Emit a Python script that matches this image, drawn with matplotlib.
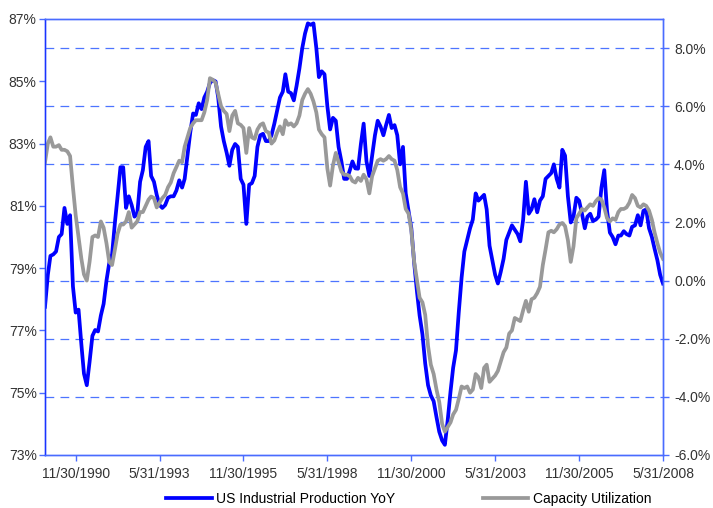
import matplotlib
matplotlib.use("Agg")
import matplotlib.pyplot as plt
import pandas as pd

plt.rcParams['font.family'] = ['Liberation Sans', 'DejaVu Sans']

# monthly, Dec 1989 .. May 2008 (one row per year)
ip_yoy = [
    -0.9,
    0.2, 0.85, 0.9, 1.0, 1.5, 1.6, 2.5, 1.95, 2.25, -0.2, -1.1, -1.0,
    -2.2, -3.2, -3.6, -2.8, -1.9, -1.7, -1.75, -1.2, -0.8, 0.0, 0.6, 0.9,
    2.0, 2.9, 3.9, 3.9, 2.5, 2.9, 2.6, 2.2, 2.3, 3.4, 3.8, 4.6,
    4.8, 3.6, 3.4, 2.95, 2.6, 2.5, 2.6, 2.85, 2.9, 2.9, 3.1, 3.45,
    3.2, 3.5, 4.3, 5.1, 5.75, 5.7, 6.1, 5.9, 6.3, 6.5, 6.8, 6.9,
    6.85, 6.3, 5.3, 4.8, 4.4, 3.95, 4.5, 4.7, 4.6, 3.5, 3.3, 1.95,
    3.3, 3.35, 3.6, 4.6, 5.0, 5.05, 4.8, 4.8, 5.0, 5.4, 5.85, 6.3,
    6.5, 7.1, 6.5, 6.45, 6.2, 6.7, 7.3, 8.0, 8.5, 8.85, 8.8, 8.85,
    8.0, 7.0, 7.2, 7.1, 6.0, 5.2, 5.6, 5.5, 4.6, 4.1, 3.5, 3.5,
    3.8, 4.1, 3.86, 3.85, 4.7, 5.4, 4.1, 3.6, 4.3, 5.0, 5.5, 5.3,
    5.0, 5.35, 5.7, 5.25, 5.35, 5.0, 4.0, 4.6, 3.0, 2.4, 1.8, 0.6,
    -0.4, -1.2, -1.85, -2.85, -3.6, -3.95, -4.15, -4.7, -5.2, -5.5, -5.65, -4.8,
    -3.8, -3.0, -2.4, -1.1, 0.1, 1.0, 1.4, 1.8, 2.1, 3.0, 2.75, 2.85,
    2.95, 2.45, 1.2, 0.7, 0.2, -0.1, 0.3, 0.75, 1.4, 1.65, 1.9, 1.75,
    1.6, 1.35, 2.1, 3.4, 2.3, 2.45, 2.8, 2.35, 2.75, 2.9, 3.5, 3.6,
    3.7, 4.0, 3.5, 3.2, 4.5, 4.3, 2.9, 2.0, 2.2, 2.85, 2.75, 2.3,
    1.8, 2.2, 2.3, 2.05, 2.1, 2.2, 3.2, 3.8, 2.4, 1.65, 1.5, 1.25,
    1.55, 1.55, 1.7, 1.6, 1.55, 1.85, 1.9, 2.25, 1.9, 2.4, 2.45, 1.8,
    1.5, 1.1, 0.7, 0.2, -0.1,
]

cap_util = [
    82.4,
    83.0, 83.2, 82.9, 82.9, 82.95, 82.8, 82.8, 82.75, 82.6, 81.6, 80.7, 80.0,
    79.3, 78.8, 78.6, 79.2, 80.0, 80.05, 80.0, 80.5, 80.3, 79.8, 79.2, 79.1,
    79.6, 80.1, 80.4, 80.4, 80.5, 80.8, 80.3, 80.4, 80.5, 80.8, 80.8, 81.0,
    81.2, 81.3, 81.25, 80.95, 81.1, 81.25, 81.35, 81.6, 81.75, 82.05, 82.25, 82.45,
    82.4, 82.9, 83.2, 83.5, 83.65, 83.75, 83.75, 83.75, 84.0, 84.4, 85.1, 85.05,
    84.95, 84.6, 84.2, 84.05, 83.95, 83.4, 83.9, 84.05, 83.65, 83.6, 83.5, 82.7,
    83.5, 83.2, 83.15, 83.45, 83.6, 83.65, 83.4, 83.35, 83.0, 83.1, 83.35, 83.55,
    83.3, 83.75, 83.6, 83.65, 83.55, 83.65, 83.9, 84.4, 84.6, 84.75, 84.6, 84.35,
    84.0, 83.45, 83.3, 83.2, 82.2, 81.65, 82.3, 82.7, 82.4, 82.1, 82.0, 82.0,
    81.95, 81.8, 81.75, 81.9, 81.8, 82.0, 81.85, 81.4, 81.95, 82.2, 82.45, 82.5,
    82.45, 82.5, 82.6, 82.5, 82.45, 82.15, 81.6, 81.4, 80.9, 80.75, 80.2, 79.2,
    78.6, 78.05, 77.9, 77.5, 76.5, 75.9, 75.6, 75.1, 74.7, 74.0, 73.75, 73.9,
    74.05, 74.3, 74.45, 74.8, 75.2, 75.15, 75.2, 75.0, 75.1, 75.6, 75.5, 75.15,
    75.8, 75.9, 75.35, 75.45, 75.55, 75.7, 76.0, 76.3, 76.45, 76.9, 77.0, 77.4,
    77.35, 77.3, 77.65, 77.95, 77.6, 78.0, 78.05, 78.2, 78.4, 79.1, 79.6, 80.15,
    80.2, 80.15, 80.25, 80.4, 80.45, 80.35, 79.9, 79.2, 79.7, 80.6, 80.75, 80.9,
    80.85, 80.95, 81.05, 81.0, 81.15, 81.25, 81.2, 80.95, 80.6, 80.5, 80.6, 80.55,
    80.8, 80.9, 80.9, 80.95, 81.1, 81.35, 81.25, 81.0, 80.95, 81.05, 81.0, 80.85,
    80.55, 80.15, 79.8, 79.5, 79.3,
]

dates = pd.date_range('1989-12-31', periods=len(cap_util), freq='ME')
tick_dates = pd.date_range('1990-11-30', '2008-05-31', freq='30ME')
tick_labels = [f"{d.month}/{d.day}/{d.year}" for d in tick_dates]

left_ticks = list(range(73, 88, 2))
right_ticks = list(range(-6, 9, 2))

BLUE = '#0000ff'
GRAY = '#999999'
SPINE = '#4a6cff'
TXT = '#333333'

fig = plt.figure(figsize=(7.13, 5.08), dpi=100)
ax = fig.add_axes([45/713, 1 - 455/508, (663 - 45)/713, (455 - 19)/508])
ax2 = ax.twinx()
# capacity utilisation drawn on top of the IP line
ax.set_zorder(ax2.get_zorder() + 1)
ax.patch.set_visible(False)

ax2.plot(dates, ip_yoy, color=BLUE, lw=2.7, solid_joinstyle='round')
ax.plot(dates, cap_util, color=GRAY, lw=2.7, solid_joinstyle='round')

ax.set_ylim(73, 87)
ax.set_yticks(left_ticks)
ax.set_yticklabels([f"{v}%" for v in left_ticks])
ax2.set_ylim(-6, 9)
ax2.set_yticks(right_ticks)
ax2.set_yticklabels([f"{v:.1f}%" for v in right_ticks])

ax.set_xlim(pd.Timestamp('1989-12-31'), pd.Timestamp('2008-05-31'))
ax.set_xticks(tick_dates)
ax.set_xticklabels(tick_labels)

for v in right_ticks[1:]:
    ax2.axhline(v, color='#4d74ff', lw=0.9, ls=(0, (7, 5)), zorder=0)

for a in (ax, ax2):
    for s in a.spines.values():
        s.set_color(SPINE)
        s.set_linewidth(1.0)
    a.tick_params(colors=SPINE, labelcolor=TXT, labelsize=10, length=4, width=1)
ax.spines['left'].set_color('#1a33ff')
ax.tick_params(axis='y', pad=2)
ax2.tick_params(axis='y', pad=4)
ax.tick_params(axis='x', pad=5)

h1, = ax2.plot([], [], color=BLUE, lw=2.7)
h2, = ax.plot([], [], color=GRAY, lw=2.7)
fig.legend([h1, h2], ['US Industrial Production YoY', 'Capacity Utilization'],
           loc='center left', bbox_to_anchor=(166/713, 1 - 499/508), ncol=2,
           frameon=False, fontsize=10, handlelength=3.3, handletextpad=0.3,
           columnspacing=6.3, borderpad=0, borderaxespad=0)

fig.savefig('out.png', dpi=100)
